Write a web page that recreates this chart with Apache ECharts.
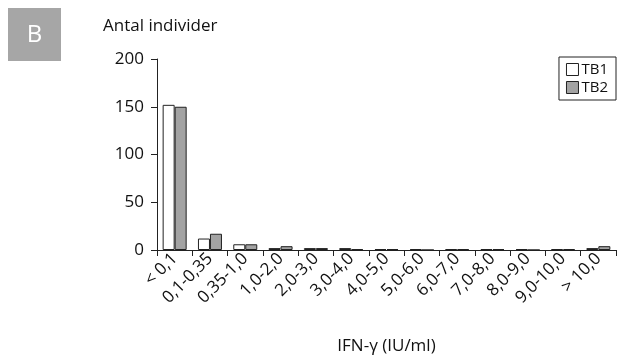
<!DOCTYPE html>
<html>
<head>
<meta charset="utf-8">
<script src="https://cdn.jsdelivr.net/npm/echarts@6/dist/echarts.min.js"></script>
<style>html,body{margin:0;padding:0;background:#fff}#c{width:621px;height:361px}</style>
</head>
<body>
<div id="c"></div>
<script>
var categories = ["< 0,1", "0,1-0,35", "0,35-1,0", "1,0-2,0", "2,0-3,0", "3,0-4,0", "4,0-5,0", "5,0-6,0", "6,0-7,0", "7,0-8,0", "8,0-9,0", "9,0-10,0", "> 10,0"];
var tb1 = [152, 12, 6, 2, 2, 2, 1, 1, 1, 1, 1, 1, 2];
var tb2 = [150, 17, 6, 4, 2, 1, 1, 0, 1, 1, 0, 1, 4];
var yTicks = [0, 50, 100, 150, 200];
var FONT = "Open Sans";
var chart = echarts.init(document.getElementById('c'), null, {renderer: 'canvas'});
chart.setOption({
  animation: false,
  textStyle: {fontFamily: FONT},
  grid: {left: 157, right: 5, top: 59, bottom: 111},
  legend: {
    data: ['TB1', 'TB2'],
    orient: 'vertical',
    right: 5, top: 57,
    icon: 'rect',
    borderColor: '#222', borderWidth: 1,
    padding: [5, 8, 5, 7],
    itemWidth: 12, itemHeight: 12, itemGap: 3,
    itemStyle: {borderWidth: 1, borderColor: '#222'},
    textStyle: {fontSize: 15, color: '#111', fontFamily: FONT, padding: [0, 0, 0, -2]}
  },
  xAxis: {
    type: 'category',
    data: categories,
    axisLine: {lineStyle: {color: '#222', width: 1}},
    axisTick: {show: true, alignWithLabel: false, length: 6, lineStyle: {color: '#222'}},
    axisLabel: {rotate: 45, fontSize: 17, color: '#111', margin: 6, interval: 0, fontFamily: FONT},
    name: 'IFN-γ (IU/ml)',
    nameLocation: 'middle',
    nameGap: 88,
    nameTextStyle: {fontSize: 17, color: '#111', fontFamily: FONT}
  },
  yAxis: {
    type: 'value',
    min: 0, max: 200, interval: 50,
    axisLine: {show: true, lineStyle: {color: '#222', width: 1}},
    axisTick: {show: true, length: 6, lineStyle: {color: '#222'}},
    splitLine: {show: false},
    axisLabel: {fontSize: 17, color: '#111', margin: 13, fontFamily: FONT,
      formatter: function (v) { return yTicks.indexOf(v) >= 0 ? String(v) : ''; }}
  },
  series: [
    {name: 'TB1', type: 'bar', data: tb1, barWidth: 12, barGap: '0%',
     itemStyle: {color: '#ffffff', borderColor: '#222', borderWidth: 1}},
    {name: 'TB2', type: 'bar', data: tb2, barWidth: 12,
     itemStyle: {color: '#a3a3a3', borderColor: '#222', borderWidth: 1}}
  ],
  graphic: [
    {type: 'rect', shape: {x: 8, y: 8, width: 53, height: 53}, style: {fill: '#a6a6a6'}},
    {type: 'text', x: 34.5, y: 35, style: {text: 'B', align: 'center', verticalAlign: 'middle', fill: '#fff', font: '24px "' + FONT + '"'}},
    {type: 'text', x: 103, y: 26, style: {text: 'Antal individer', verticalAlign: 'middle', fill: '#111', font: '17px "' + FONT + '"'}}
  ]
});
</script>
</body>
</html>
